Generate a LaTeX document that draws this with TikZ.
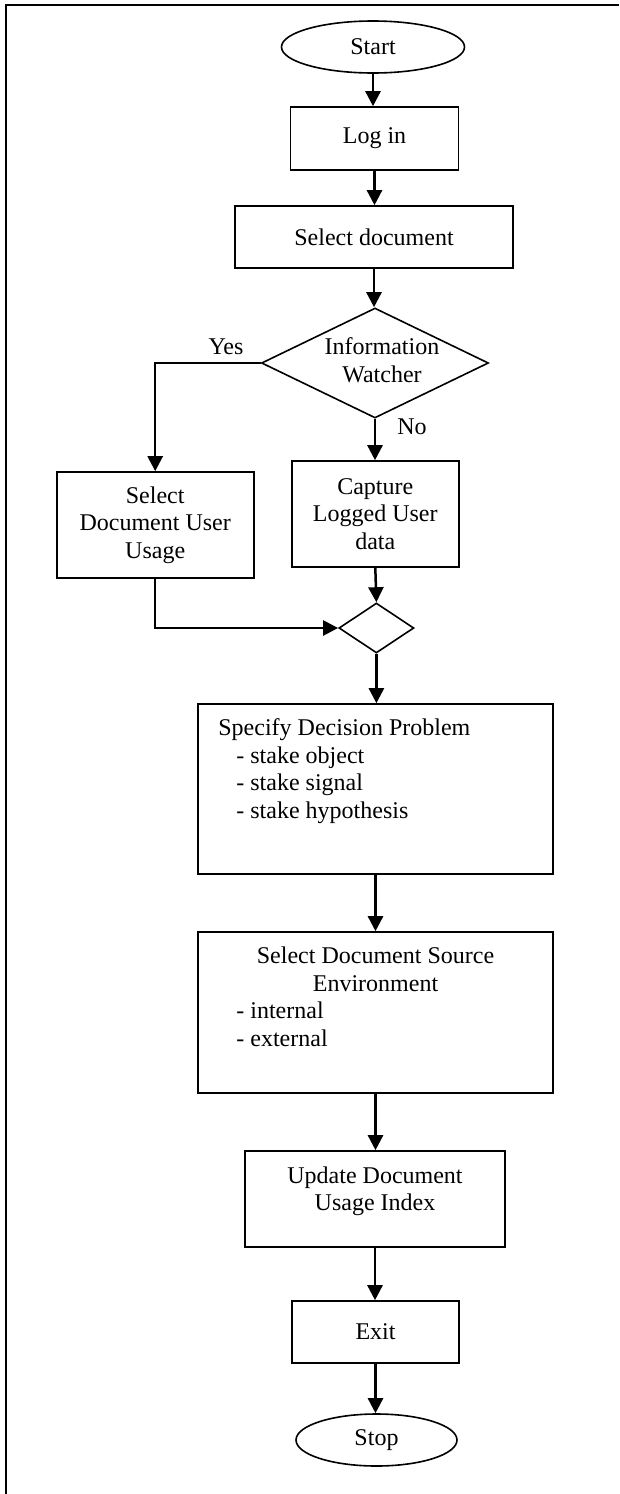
\documentclass[tikz,border=0pt]{standalone}
\usepackage{fontspec}
\setmainfont{Liberation Serif}
\usetikzlibrary{shapes.geometric,arrows.meta}
\begin{document}
\begin{tikzpicture}[x=1pt,y=-1pt,
  font=\fontsize{24}{27.5}\selectfont,
  box/.style={draw,line width=1.6pt,rectangle,inner sep=0pt,align=center},
  term/.style={draw,line width=1.6pt,ellipse,inner sep=0pt},
  dec/.style={draw,line width=1.6pt,diamond,inner sep=0pt,align=center},
  conn/.style={line width=2.5pt,-{Triangle[length=15pt,width=15pt]}},
  plain/.style={line width=2.5pt},
  lbl/.style={inner sep=0pt}]
\useasboundingbox (0,0) rectangle (619,1494);
\draw[line width=2.5pt] (6,1494) -- (6,5) -- (619,5);

\node[term,minimum width=183pt,minimum height=52pt] (start) at (373,47) {Start};
\node[box,minimum width=168pt,minimum height=63pt] (login) at (374.5,138.5) {Log in};
\node[box,minimum width=278pt,minimum height=62pt] (seldoc) at (374,237) {Select document};
\node[dec,minimum width=227pt,minimum height=110pt,
  label={[align=center,inner sep=0pt,xshift=7pt,yshift=3pt]center:Information\\Watcher}] (info) at (375,363) {};
\node[box,minimum width=197pt,minimum height=106pt] (usage) at (155.2,525) {Select\\Document User\\Usage};
\node[box,minimum width=167pt,minimum height=106pt] (capture) at (375.3,514) {Capture\\Logged User\\data};
\node[dec,minimum width=75pt,minimum height=50pt] (merge) at (376.4,628) {};
\node[box,minimum width=355pt,minimum height=170pt,
  label={[anchor=north west,align=left,inner sep=0pt,xshift=21pt,yshift=-15.6pt]north west:Specify Decision Problem\\\hspace*{18pt}- stake object\\\hspace*{18pt}- stake signal\\\hspace*{18pt}- stake hypothesis}] (specify) at (375.5,789) {};
\node[box,minimum width=355pt,minimum height=161pt,
  label={[anchor=north,align=center,inner sep=0pt,yshift=-15.6pt]north:Select Document Source\\Environment},
  label={[anchor=north west,align=left,inner sep=0pt,xshift=39pt,yshift=-70.6pt]north west:- internal\\- external}] (source) at (375.5,1012.5) {};
\node[box,minimum width=260pt,minimum height=96pt,
  label={[align=center,inner sep=0pt,yshift=8pt]center:Update Document\\Usage Index}] (update) at (375,1199) {};
\node[box,minimum width=167pt,minimum height=62pt] (exit) at (375.5,1332) {Exit};
\node[term,minimum width=161pt,minimum height=52pt] (stop) at (376.5,1440) {Stop};

\node[lbl] (yes) at (226,347) {Yes};
\node[lbl] (no) at (412,427) {No};

\draw[conn] (start.south) -- (start.south |- login.north);
\draw[conn] (login.south) -- (login.south |- seldoc.north);
\draw[conn] (seldoc.south) -- (seldoc.south |- info.north);
\draw[conn] (info.west) -| (usage.north);
\draw[conn] (info.south) -- (info.south |- capture.north);
\draw[conn] (capture.south) -- (merge.north);
\draw[conn] (usage.south) |- (merge.west);
\draw[conn] (merge.south) -- (merge.south |- specify.north);
\draw[conn] (specify.south) -- (source.north);
\draw[conn] (source.south) -- (source.south |- update.north);
\draw[conn] (update.south) -- (update.south |- exit.north);
\draw[conn] (exit.south) -- (exit.south |- stop.north);
\end{tikzpicture}
\end{document}
